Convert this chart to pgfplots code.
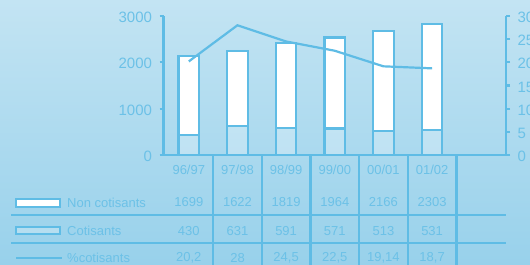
\documentclass[border=0pt]{standalone}
\usepackage{pgfplots}
\pgfplotsset{compat=1.18}
\usepackage{fontspec}
\setmainfont{Liberation Sans}
\definecolor{lb}{HTML}{5FBCE5}
\definecolor{tc}{HTML}{6CC1E7}
\definecolor{bgtop}{HTML}{C3E4F3}
\definecolor{bgbot}{HTML}{98D1EB}
\newcommand{\tickfont}{\fontsize{15}{17}\selectfont}
\newcommand{\tabfont}{\fontsize{13}{15}\selectfont}
\begin{document}
\begin{tikzpicture}
\path[use as bounding box] (0pt,0pt) rectangle (530pt,265pt);
\clip (0pt,0pt) rectangle (530pt,265pt);
\shade[top color=bgtop,bottom color=bgbot] (0pt,0pt) rectangle (530pt,265pt);
\begin{axis}[
    at={(163.5pt,110pt)}, anchor=south west,
    width=342.5pt, height=139pt, scale only axis,
    xmin=-0.52, xmax=6.52, clip=false,
    axis line style={lb,line width=2.2pt},
    tick style={lb,line width=2.2pt},
    major tick length=4pt, tick align=outside,
    xtick=\empty,
    /pgf/number format/assume math mode=true,
    /pgf/number format/1000 sep={},
    yticklabel style={font=\tickfont, text=tc, xshift=-4pt, yshift=-1.5pt},
    ymin=0, ymax=3000, ytick={0,1000,2000,3000},
    axis y line*=left, axis x line*=bottom,
    ybar stacked, bar width=20.5pt]
\addplot[fill=white, fill opacity=0.25, draw=lb, line width=2.2pt]
  coordinates {(0,430)(1,631)(2,591)(3,571)(4,513)(5,531)};
\addplot[fill=white, draw=lb, line width=2.2pt]
  coordinates {(0,1699)(1,1622)(2,1819)(3,1964)(4,2166)(5,2303)};
\end{axis}
\begin{axis}[
    at={(163.5pt,110pt)}, anchor=south west,
    width=342.5pt, height=139pt, scale only axis,
    xmin=-0.52, xmax=6.52, clip=false,
    axis line style={lb,line width=2.2pt},
    tick style={lb,line width=2.2pt},
    major tick length=4pt, tick align=outside,
    xtick=\empty,
    /pgf/number format/assume math mode=true,
    yticklabel style={font=\tickfont, text=tc, xshift=4pt, yshift=-1.5pt},
    ymin=0, ymax=30, ytick={0,5,...,30},
    axis y line*=right, axis x line=none]
\addplot[lb, line width=2.2pt, mark=none]
  coordinates {(0,20.2)(1,28)(2,24.5)(3,22.5)(4,19.14)(5,18.7)};
\end{axis}
% table grid (bar centres at 188.8pt + 48.65pt * i)
\begin{scope}[lb,line width=2.2pt]
\draw (213.1pt,110pt) -- (213.1pt,0pt);
\draw (261.8pt,110pt) -- (261.8pt,0pt);
\draw (310.4pt,110pt) -- (310.4pt,0pt);
\draw (359.1pt,110pt) -- (359.1pt,0pt);
\draw (407.7pt,110pt) -- (407.7pt,0pt);
\draw (456.4pt,110pt) -- (456.4pt,0pt);
\draw (11pt,50pt) -- (506pt,50pt);
\draw (11pt,21.7pt) -- (506pt,21.7pt);
\end{scope}
\begin{scope}[every node/.style={font=\tabfont, text=tc, inner sep=0pt}]
\node at (188.8pt,95pt) {96/97};
\node at (237.5pt,95pt) {97/98};
\node at (286.1pt,95pt) {98/99};
\node at (334.8pt,95pt) {99/00};
\node at (383.4pt,95pt) {00/01};
\node at (432.1pt,95pt) {01/02};
\node at (188.8pt,63pt) {1699};
\node at (237.5pt,63pt) {1622};
\node at (286.1pt,63pt) {1819};
\node at (334.8pt,63pt) {1964};
\node at (383.4pt,63pt) {2166};
\node at (432.1pt,63pt) {2303};
\node at (188.8pt,34.3pt) {430};
\node at (237.5pt,34.3pt) {631};
\node at (286.1pt,34.3pt) {591};
\node at (334.8pt,34.3pt) {571};
\node at (383.4pt,34.3pt) {513};
\node at (432.1pt,34.3pt) {531};
\node at (188.8pt,7pt) {20,2};
\node at (237.5pt,7pt) {28};
\node at (286.1pt,7pt) {24,5};
\node at (334.8pt,7pt) {22,5};
\node at (383.4pt,7pt) {19,14};
\node at (432.1pt,7pt) {18,7};
\end{scope}
% legend
\draw[lb,line width=2.2pt,fill=white] (16pt,58pt) rectangle (60pt,66pt);
\draw[lb,line width=2.2pt,fill=white,fill opacity=0.25] (16pt,31pt) rectangle (60pt,38pt);
\draw[lb,line width=2.2pt] (16pt,7pt) -- (62pt,7pt);
\begin{scope}[every node/.style={font=\tabfont, text=tc, inner sep=0pt, anchor=west}]
\node at (67pt,62pt) {Non cotisants};
\node at (67pt,34.5pt) {Cotisants};
\node at (67pt,7pt) {\%cotisants};
\end{scope}
\end{tikzpicture}
\end{document}
